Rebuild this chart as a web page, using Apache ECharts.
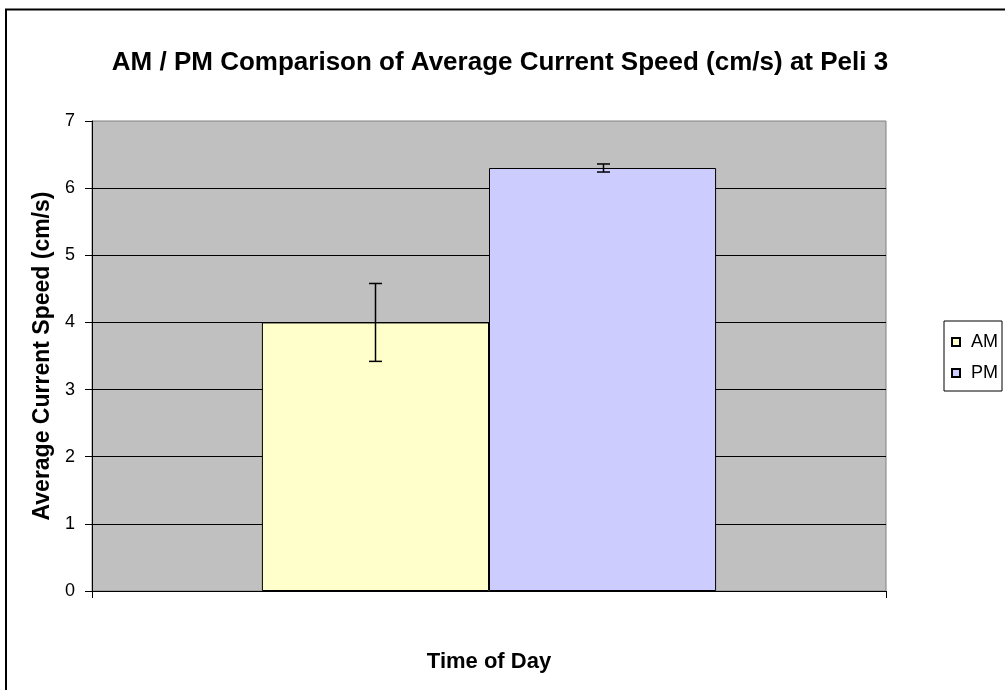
<!DOCTYPE html>
<html>
<head>
<meta charset="utf-8">
<script src="https://cdn.jsdelivr.net/npm/echarts@6/dist/echarts.min.js"></script>
<style>
  html, body { margin: 0; padding: 0; background: #fff; }
  #chart { width: 1005px; height: 690px; }
</style>
</head>
<body>
<div id="chart"></div>
<script>
const categories = [''];
const seriesNames = ['AM', 'PM'];
const means = [4.0, 6.3];
const errors = [0.58, 0.06];
const colors = ['#FFFFCC', '#CCCCFF'];
const yTicks = [0, 1, 2, 3, 4, 5, 6, 7];

const font = '"Liberation Sans", Arial, sans-serif';
const catGap = 0.428;

const chart = echarts.init(document.getElementById('chart'), null, { renderer: 'canvas' });

const errData = means.map((m, k) => [0, m - errors[k], m + errors[k], k]);

chart.setOption({
  animation: false,
  textStyle: { fontFamily: font },
  title: {
    text: 'AM / PM Comparison of Average Current Speed (cm/s) at Peli 3',
    left: 495,
    top: 45,
    textAlign: 'center',
    textStyle: { fontSize: 26, fontWeight: 'bold', color: '#000', fontFamily: font }
  },
  graphic: [{
    type: 'rect',
    shape: { x: 6, y: 9.5, width: 1100, height: 800 },
    style: { fill: 'none', stroke: '#000', lineWidth: 2 },
    silent: true
  }],
  legend: {
    data: seriesNames,
    orient: 'vertical',
    left: 944,
    top: 321,
    padding: [12, 4, 9, 7],
    itemGap: 13,
    itemWidth: 8,
    itemHeight: 8,
    icon: 'rect',
    backgroundColor: '#fff',
    borderColor: '#000',
    borderWidth: 1,
    textStyle: { fontSize: 18, color: '#000', fontFamily: font, padding: [0, 0, 0, 6] }
  },
  grid: {
    left: 92,
    top: 121,
    width: 794,
    height: 470,
    show: true,
    backgroundColor: '#C0C0C0',
    borderColor: '#808080',
    borderWidth: 1
  },
  xAxis: {
    type: 'category',
    data: categories,
    name: 'Time of Day',
    nameLocation: 'middle',
    nameGap: 60,
    nameTextStyle: { fontSize: 22, fontWeight: 'bold', color: '#000', fontFamily: font },
    axisLine: { lineStyle: { color: '#000', width: 1 } },
    axisTick: { show: true, length: 7, lineStyle: { color: '#000' } },
    axisLabel: { show: false }
  },
  yAxis: {
    type: 'value',
    min: 0,
    max: 7,
    interval: 1,
    name: 'Average Current Speed (cm/s)',
    nameLocation: 'middle',
    nameRotate: 90,
    nameGap: 28,
    nameTextStyle: { fontSize: 23, fontWeight: 'bold', color: '#000', fontFamily: font },
    axisLine: { show: true, lineStyle: { color: '#000', width: 1 } },
    axisTick: { show: true, length: 7, lineStyle: { color: '#000' } },
    axisLabel: {
      fontSize: 18,
      color: '#000',
      margin: 17,
      fontFamily: font,
      formatter: (v) => (yTicks.includes(v) ? String(v) : '')
    },
    splitLine: { show: true, showMinLine: false, showMaxLine: false, lineStyle: { color: '#000', width: 1 } }
  },
  series: [
    ...seriesNames.map((name, k) => ({
      name,
      type: 'bar',
      data: [means[k]],
      barGap: '0%',
      barCategoryGap: (catGap * 100) + '%',
      itemStyle: { color: colors[k], borderColor: '#000', borderWidth: 1 },
      z: 2
    })),
    {
      type: 'custom',
      name: 'error',
      data: errData,
      z: 5,
      renderItem(params, api) {
        const k = api.value(3);
        const band = api.size([1, 0])[0];
        const barW = band * (1 - catGap) / 2;
        const lo = api.coord([api.value(0), api.value(1)]);
        const hi = api.coord([api.value(0), api.value(2)]);
        const x = Math.round(lo[0] + (k - 0.5) * barW) + 0.5;
        const cap = 6.5;
        const style = { stroke: '#000', lineWidth: 1.5 };
        return {
          type: 'group',
          children: [
            { type: 'line', shape: { x1: x, y1: lo[1], x2: x, y2: hi[1] }, style },
            { type: 'line', shape: { x1: x - cap, y1: lo[1], x2: x + cap, y2: lo[1] }, style },
            { type: 'line', shape: { x1: x - cap, y1: hi[1], x2: x + cap, y2: hi[1] }, style }
          ]
        };
      }
    }
  ]
});
</script>
</body>
</html>
